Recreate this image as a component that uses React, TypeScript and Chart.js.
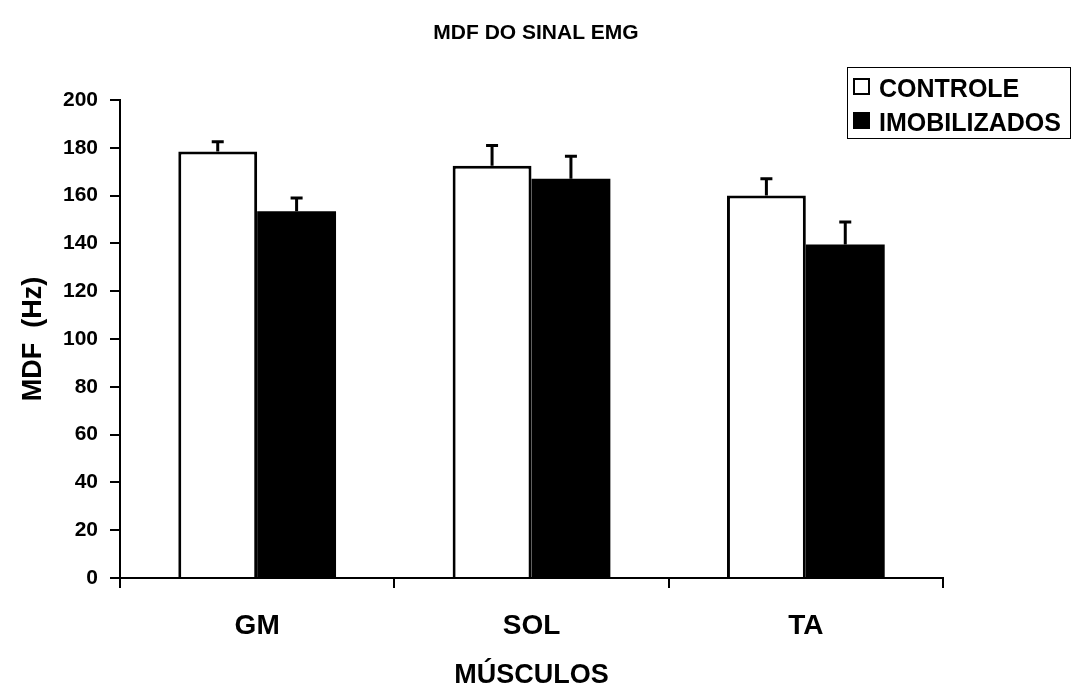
import React, { useEffect, useRef } from "react";
import { Chart, registerables } from "chart.js";

Chart.register(...registerables);

const FONT = '"Liberation Sans", Arial, Helvetica, sans-serif';

const chartTitle = "MDF DO SINAL EMG";
const xAxisTitle = "MÚSCULOS";
const yAxisTitle = "MDF  (Hz)";
const categories = ["GM", "SOL", "TA"];
const seriesNames = ["CONTROLE", "IMOBILIZADOS"];
const controleValues = [178.5, 172.5, 160];
const controleErrors = [4, 8.5, 7];
const imobilizadosValues = [153.5, 167, 139.5];
const imobilizadosErrors = [5.5, 9.5, 9.5];
const yMin = 0;
const yMax = 200;
const yStep = 20;

const errorsBySeries = [controleErrors, imobilizadosErrors];

const errorBarPlugin = {
  id: "errorBars",
  afterDatasetsDraw(chart: any) {
    const ctx = chart.ctx;
    const yScale = chart.scales.y;
    chart.data.datasets.forEach((ds: any, i: number) => {
      const meta = chart.getDatasetMeta(i);
      const errs = errorsBySeries[i];
      meta.data.forEach((el: any, j: number) => {
        const v = ds.data[j];
        const top = yScale.getPixelForValue(v + errs[j]);
        ctx.save();
        ctx.strokeStyle = "#000";
        ctx.lineWidth = 3;
        ctx.beginPath();
        ctx.moveTo(el.x, el.y);
        ctx.lineTo(el.x, top);
        ctx.moveTo(el.x - 6, top);
        ctx.lineTo(el.x + 6, top);
        ctx.stroke();
        ctx.restore();
      });
    });
  },
};

const textPlugin = {
  id: "texts",
  afterDraw(chart: any) {
    const ctx = chart.ctx;
    const area = chart.chartArea;
    ctx.save();
    ctx.fillStyle = "#000";
    // title
    ctx.font = `bold 21px ${FONT}`;
    ctx.textAlign = "center";
    ctx.textBaseline = "alphabetic";
    ctx.fillText(chartTitle, 536, 39);
    // x title
    ctx.font = `bold 27px ${FONT}`;
    ctx.fillText(xAxisTitle, (area.left + area.right) / 2, 683);
    // y title
    ctx.save();
    ctx.translate(41, (area.top + area.bottom) / 2);
    ctx.rotate(-Math.PI / 2);
    ctx.fillText(yAxisTitle, 0, 0);
    ctx.restore();
    // legend
    ctx.strokeStyle = "#000";
    ctx.lineWidth = 1;
    ctx.strokeRect(847.5, 67.5, 223, 71);
    ctx.font = `bold 25px ${FONT}`;
    ctx.textAlign = "left";
    const rows = [
      { label: seriesNames[0], y: 97, fill: "#fff" },
      { label: seriesNames[1], y: 131, fill: "#000" },
    ];
    rows.forEach((r) => {
      ctx.fillStyle = r.fill;
      ctx.fillRect(854, r.y - 18, 15, 15);
      ctx.strokeStyle = "#000";
      ctx.lineWidth = 2;
      ctx.strokeRect(854, r.y - 18, 15, 15);
      ctx.fillStyle = "#000";
      ctx.fillText(r.label, 879, r.y);
    });
    ctx.restore();
  },
};

export default function App() {
  const ref = useRef<HTMLCanvasElement>(null);
  useEffect(() => {
    document.body.style.margin = "0";
    const chart = new Chart(ref.current!, {
      type: "bar",
      data: {
        labels: categories,
        datasets: [
          {
            label: seriesNames[0],
            data: controleValues,
            backgroundColor: "#ffffff",
            borderColor: "#000000",
            borderWidth: 3,
            categoryPercentage: 0.575,
            barPercentage: 1.0,
          },
          {
            label: seriesNames[1],
            data: imobilizadosValues,
            backgroundColor: "#000000",
            borderColor: "#000000",
            borderWidth: 0,
            categoryPercentage: 0.575,
            barPercentage: 1.0,
          },
        ],
      },
      options: {
        responsive: false,
        animation: false,
        devicePixelRatio: 1,
        layout: { padding: { top: 100, right: 129, bottom: 0, left: 0 } },
        plugins: {
          legend: { display: false },
          title: { display: false },
          tooltip: { enabled: false },
        },
        scales: {
          x: {
            grid: {
              offset: true,
              drawOnChartArea: false,
              drawTicks: true,
              tickLength: 10,
              color: "#000",
              lineWidth: 2,
            },
            border: { display: true, color: "#000", width: 2 },
            ticks: {
              color: "#000",
              font: { family: FONT, size: 28, weight: "bold" },
              padding: 21,
            },
            afterFit: (s: any) => {
              s.height = 110;
            },
          },
          y: {
            min: yMin,
            max: yMax,
            ticks: {
              stepSize: yStep,
              color: "#000",
              font: { family: FONT, size: 21, weight: "bold" },
              padding: 12,
            },
            grid: {
              drawOnChartArea: false,
              drawTicks: true,
              tickLength: 10,
              color: "#000",
              lineWidth: 2,
            },
            border: { display: true, color: "#000", width: 2 },
            afterFit: (s: any) => {
              s.width = 120;
            },
          },
        },
      },
      plugins: [errorBarPlugin, textPlugin],
    } as any);
    return () => chart.destroy();
  }, []);
  return (
    <div style={{ position: "fixed", left: 0, top: 0, width: 1072, height: 688, background: "#fff" }}>
      <canvas ref={ref} width={1072} height={688} style={{ width: 1072, height: 688, display: "block" }} />
    </div>
  );
}
